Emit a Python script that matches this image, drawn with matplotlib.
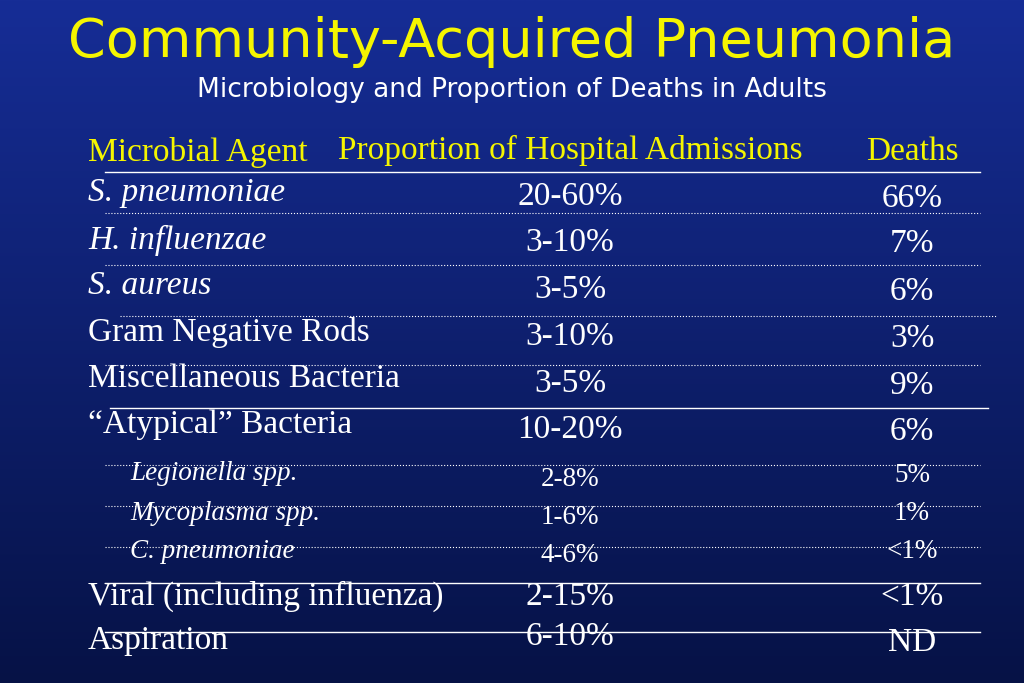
import numpy as np
import matplotlib.pyplot as plt

title = "Community-Acquired Pneumonia"
subtitle = "Microbiology and Proportion of Deaths in Adults"
headers = ["Microbial Agent", "Proportion of Hospital Admissions", "Deaths"]
agents = ["S. pneumoniae", "H. influenzae", "S. aureus", "Gram Negative Rods",
          "Miscellaneous Bacteria", "\u201cAtypical\u201d Bacteria", "Legionella spp.",
          "Mycoplasma spp.", "C. pneumoniae", "Viral (including influenza)", "Aspiration"]
admissions = ["20-60%", "3-10%", "3-5%", "3-10%", "3-5%", "10-20%",
              "2-8%", "1-6%", "4-6%", "2-15%", "6-10%"]
deaths = ["66%", "7%", "6%", "3%", "9%", "6%", "5%", "1%", "<1%", "<1%", "ND"]
italic = [True, True, True, False, False, False, True, True, True, False, False]
sub_row = [False] * 6 + [True] * 3 + [False] * 2

# layout (pixel coords)
agent_y = [193, 240, 286, 332, 379, 425, 473, 514, 552, 596, 641]
adm_y = [197, 243, 290, 337, 384, 430, 479, 518, 556, 597, 637]
death_y = [199, 244, 292, 339, 386, 432, 475, 513, 552, 597, 643]
lines = [(172, 105, 980, "-"), (213, 105, 980, ":"), (265, 105, 980, ":"),
         (316, 120, 997, ":"), (365, 105, 980, ":"), (408, 110, 988, "-"),
         (465, 105, 980, ":"), (506, 105, 980, ":"), (547, 105, 980, ":"),
         (583, 105, 980, "-"), (632, 105, 980, "-")]

fig = plt.figure(figsize=(10.24, 6.83), dpi=100)
ax = fig.add_axes([0, 0, 1, 1])
ax.set_xlim(0, 1024)
ax.set_ylim(683, 0)
ax.axis("off")

# background gradient
t = np.linspace(0, 1, 256)[:, None]
top = np.array([22, 45, 150]) / 255
bot = np.array([6, 18, 70]) / 255
grad = (top * (1 - t) + bot * t)[:, None, :].repeat(2, axis=1)
ax.imshow(grad, extent=[0, 1024, 683, 0], aspect="auto", zorder=0)

ax.text(512, 42, title, color="#f5f500", fontsize=39, ha="center", va="center",
        family="DejaVu Sans")
ax.text(512, 90, subtitle, color="white", fontsize=19, ha="center", va="center",
        family="DejaVu Sans")

serif = "Liberation Serif"
ax.text(88, 152, headers[0], color="#f5f500", fontsize=24, va="center", family=serif)
ax.text(570, 150, headers[1], color="#f5f500", fontsize=24, ha="center", va="center", family=serif)
ax.text(912, 152, headers[2], color="#f5f500", fontsize=24, ha="center", va="center", family=serif)

for i in range(len(agents)):
    fs = 19.5 if sub_row[i] else 24
    x = 130 if sub_row[i] else 88
    ax.text(x, agent_y[i], agents[i], color="white", fontsize=fs, va="center",
            family=serif, style="italic" if italic[i] else "normal")
    ax.text(570, adm_y[i], admissions[i], color="white", fontsize=fs, ha="center",
            va="center", family=serif)
    ax.text(912, death_y[i], deaths[i], color="white", fontsize=fs, ha="center",
            va="center", family=serif)

for y, x0, x1, ls in lines:
    ax.plot([x0, x1], [y, y], color="white", lw=1.0 if ls == "-" else 0.8,
            ls=ls, zorder=2)

fig.savefig("out.png", dpi=100)
